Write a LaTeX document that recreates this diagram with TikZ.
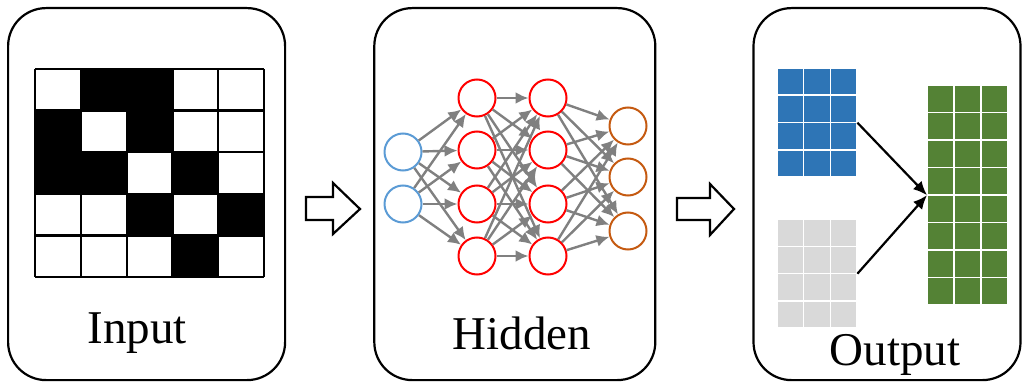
\documentclass[tikz,border=0pt]{standalone}
\usepackage{fontspec}
\setmainfont{Liberation Serif}
\usetikzlibrary{positioning, calc, arrows.meta}
\definecolor{InBlue}{HTML}{5B9BD5}
\definecolor{HidRed}{HTML}{FF0000}
\definecolor{OutOrange}{HTML}{C55A11}
\definecolor{EdgeGray}{HTML}{808080}
\definecolor{MatBlue}{HTML}{2E75B6}
\definecolor{MatGray}{HTML}{D9D9D9}
\definecolor{MatGreen}{HTML}{548235}
\tikzset{
    panel/.style={rectangle, rounded corners=38pt, draw=black, line width=2.2pt, minimum height=372pt, inner sep=0pt},
    paneltext/.style={anchor=base, font=\fontsize{47}{56}\selectfont},
    neuron/.style={circle, draw, line width=2pt, minimum size=37pt, inner sep=0pt},
    edge/.style={-{Latex[length=13pt,width=12pt]}, line width=2.4pt, color=EdgeGray},
    matframe/.style={rectangle, inner sep=0pt, anchor=north west},
    cell/.style={draw=white, line width=1.5pt},
    flow/.style={-{Latex[length=14pt,width=12pt]}, line width=2.2pt},
    hollow/.style={draw=black, line width=2.2pt, fill=white, line join=miter},
}

\begin{document}
\begin{tikzpicture}[x=1pt, y=-1pt]
        \useasboundingbox (0,0) rectangle (1024,385);

        % the three panels
        \node[panel, minimum width=277pt, anchor=north west] (inpanel) at (7,7) {};
        \node[panel, minimum width=281pt, right=87pt of inpanel] (hidpanel) {};
        \node[panel, minimum width=267pt, right=96pt of hidpanel] (outpanel) {};

        % input pattern, 5x5
        \foreach \c/\r in {2/1,3/1,1/2,3/2,1/3,2/3,4/3,3/4,5/4,4/5}
            \fill ({35+(\c-1)*45.8},{69+(\r-1)*41.6}) rectangle ++(45.8,41.6);
        \foreach \i in {0,...,5} {
            \draw[line width=2.2pt] ({35+\i*45.8},69) -- ++(0,208);
            \draw[line width=2.2pt] (35,{69+\i*41.6}) -- ++(229,0);
        }
        \node[paneltext] (intext) at (137,343) {Input};

        % hidden network
        \node[neuron, draw=InBlue] (i1) at (403,152) {};
        \node[neuron, draw=InBlue] (i2) at (403,204) {};
        \foreach \n/\y in {1/98,2/150,3/204,4/256} {
            \node[neuron, draw=HidRed] (h\n) at (477,\y) {};
            \node[neuron, draw=HidRed] (g\n) at (548,\y) {};
        }
        \foreach \n/\y in {1/126,2/177,3/231}
            \node[neuron, draw=OutOrange] (o\n) at (628,\y) {};

        \foreach \a in {1,2}
            \foreach \b in {1,...,4}
                \draw[edge] (i\a) -- (h\b);
        \foreach \a in {1,...,4}
            \foreach \b in {1,...,4}
                \draw[edge] (h\a) -- (g\b);
        \foreach \a in {1,...,4}
            \foreach \b in {1,...,3}
                \draw[edge] (g\a) -- (o\b);
        \node[paneltext] (hidtext) at (522,349) {Hidden};

        % output matrices
        \node[matframe, minimum width=80pt, minimum height=109pt] (bluemat) at (777,68) {};
        \node[matframe, minimum width=80pt, minimum height=109pt] (graymat) at (777,219) {};
        \node[matframe, minimum width=81pt, minimum height=220pt] (greenmat) at (927,85) {};
        \foreach \c in {0,1,2} {
            \foreach \r in {0,...,3} {
                \filldraw[cell, fill=MatBlue] ({777+\c*80/3},{68+\r*109/4}) rectangle ++(80/3,109/4);
                \filldraw[cell, fill=MatGray] ({777+\c*80/3},{219+\r*109/4}) rectangle ++(80/3,109/4);
            }
            \foreach \r in {0,...,7}
                \filldraw[cell, fill=MatGreen] ({927+\c*27},{85+\r*27.5}) rectangle ++(27,27.5);
        }
        \draw[flow] (bluemat.east) -- (greenmat.west);
        \draw[flow] (graymat.east) -- (greenmat.west);
        \node[paneltext] (outtext) at (895,365) {Output};

        % block arrows between panels
        \draw[hollow] (306,197) -- (333,197) -- (333,183) -- (360,209) -- (333,234) -- (333,220) -- (306,220) -- cycle;
        \draw[hollow] (677,198) -- (710,198) -- (710,184) -- (734,209) -- (710,235) -- (710,220) -- (677,220) -- cycle;
    \end{tikzpicture}
\end{document}
